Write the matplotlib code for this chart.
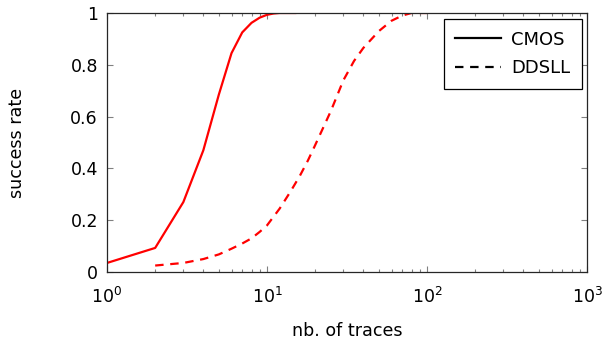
import matplotlib
matplotlib.use("Agg")
import matplotlib.pyplot as plt
from matplotlib.ticker import LogLocator, NullFormatter, FixedLocator
from matplotlib.lines import Line2D

# CMOS success rate vs number of traces
cmos_traces = [1, 2, 3, 4, 5, 6, 7, 8, 9, 10, 11, 12, 13, 14, 15]
cmos_rate = [0.035, 0.093, 0.27, 0.47, 0.685, 0.845, 0.925, 0.962, 0.982, 0.993,
             0.998, 1.0, 1.0, 1.0, 1.0]

# DDSLL success rate vs number of traces
ddsll_traces = [2, 3, 4, 5, 6, 7, 8, 9, 10, 12, 14, 16, 18, 20, 25, 30, 35, 40,
                50, 60, 70, 80, 90, 100]
ddsll_rate = [0.025, 0.035, 0.05, 0.068, 0.09, 0.11, 0.13, 0.155, 0.18, 0.245,
              0.31, 0.37, 0.43, 0.49, 0.62, 0.74, 0.815, 0.865, 0.93, 0.97,
              0.99, 1.0, 1.0, 1.0]

y_ticks = [0, 0.2, 0.4, 0.6, 0.8, 1]
y_labels = ["0", "0.2", "0.4", "0.6", "0.8", "1"]

plt.rcParams["mathtext.fontset"] = "dejavusans"

fig = plt.figure(figsize=(6.08, 3.39), dpi=100)
ax = fig.add_axes([0.176, 0.1976, 0.7895, 0.7641])

dash = (0, (3.8, 3.0))
ax.plot(cmos_traces, cmos_rate, color="red", lw=1.6, label="CMOS")
ax.plot(ddsll_traces, ddsll_rate, color="red", lw=1.6, ls=dash, label="DDSLL")

ax.set_xscale("log")
ax.set_xlim(1, 1000)
ax.set_ylim(0, 1)

ax.xaxis.set_major_locator(LogLocator(base=10, numticks=10))
ax.xaxis.set_minor_locator(LogLocator(base=10, subs=range(2, 10), numticks=10))
ax.xaxis.set_minor_formatter(NullFormatter())
ax.yaxis.set_major_locator(FixedLocator(y_ticks))
ax.set_yticklabels(y_labels)

ax.tick_params(which="both", direction="in", top=True, right=True,
               color="0.5", labelsize=12.5, width=0.8)
ax.tick_params(which="major", length=4.5)
ax.tick_params(which="minor", length=2.5)
ax.tick_params(axis="x", which="major", pad=10.5)
ax.tick_params(axis="y", which="major", pad=6.5)

for s in ax.spines.values():
    s.set_color("0.15")
    s.set_linewidth(0.9)

ax.set_xlabel("nb. of traces", fontsize=12.6, labelpad=11)
ax.set_ylabel("success rate", fontsize=12.6, labelpad=32)

# legend uses black lines
handles = [Line2D([], [], color="black", lw=1.6),
           Line2D([], [], color="black", lw=1.6, ls=dash)]
leg = ax.legend(handles, ["CMOS", "DDSLL"], loc="upper right",
                bbox_to_anchor=(0.99, 0.977), borderaxespad=0, fontsize=13,
                frameon=True, fancybox=False, framealpha=1, edgecolor="black",
                handlelength=2.55, handletextpad=0.55, borderpad=0.65,
                labelspacing=0.57)
leg.get_frame().set_linewidth(0.9)

fig.savefig("out.png", dpi=100)
